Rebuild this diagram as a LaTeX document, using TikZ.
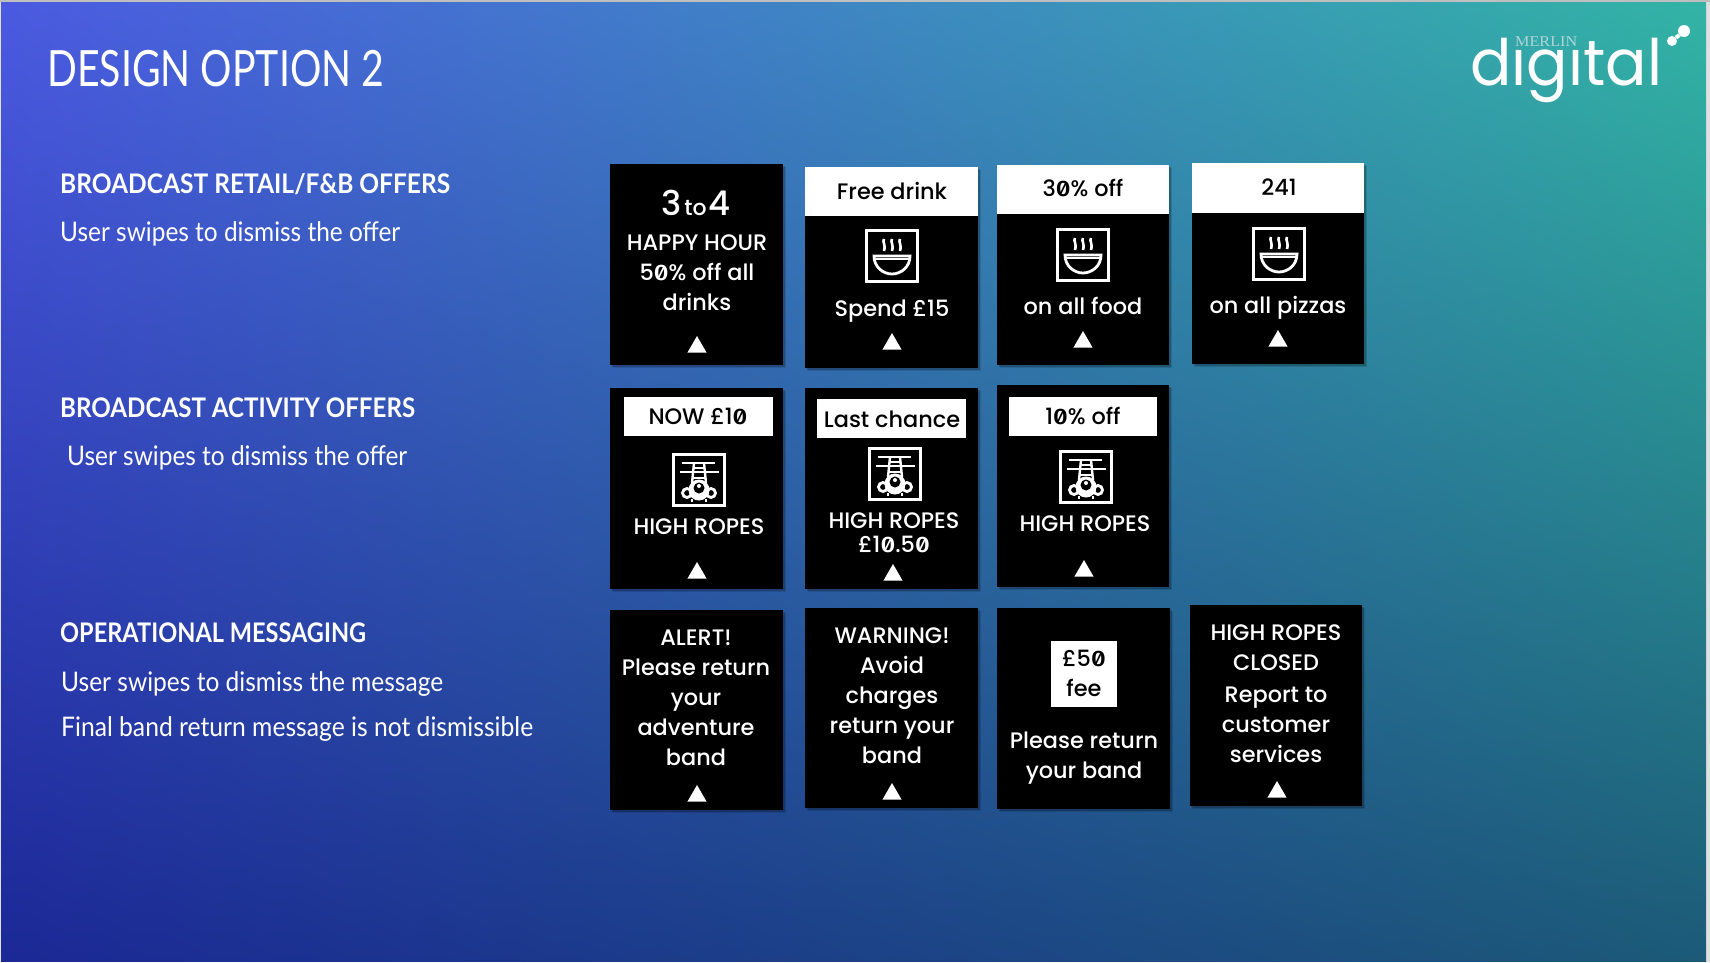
\documentclass[tikz,border=0pt]{standalone}
\usepackage{fontspec}
\usetikzlibrary{shapes.geometric,shadows}
\setmainfont{Lato}
\newfontfamily\cardf{Poppins Medium}
\newfontfamily\zerof[RawFeature=+zero]{Fira Sans Medium}
\newfontfamily\logof{Poppins}
\newfontfamily\serf{Liberation Serif}
\newcommand{\zz}{{\zerof\scalebox{1.15}[1]{0}}}
\newsavebox{\fitbox}
\newcommand{\fit}[2]{\sbox{\fitbox}{#2}\pgfmathsetmacro{\fitscale}{#1/(\wd\fitbox/1pt)}\scalebox{\fitscale}[1]{\usebox{\fitbox}}}
% bilinear page gradient: u v -> r g b
\newcommand{\chan}[4]{2 copy mul #4 mul 2 index #2 mul add 1 index #3 mul add #1 add 3 1 roll }
\pgfdeclarefunctionalshading{pagegrad}{\pgfpoint{0bp}{0bp}}{\pgfpoint{100bp}{100bp}}{}{
 25 sub 50 div exch 25 sub 50 div exch
 \chan{0.106}{0.004}{0.188}{-0.102}
 \chan{0.157}{0.196}{0.196}{0.157}
 \chan{0.588}{-0.118}{0.294}{-0.117}
 pop pop
}
\tikzset{
 x=1pt,y=-1pt,
 cardbox/.style={fill=black,anchor=north west,inner sep=0pt,outer sep=0pt,
   general shadow={shadow xshift=3pt,shadow yshift=-3pt,fill=black,opacity=.12},
   general shadow={shadow xshift=1.5pt,shadow yshift=-1.5pt,fill=black,opacity=.2}},
 headerbox/.style={fill=white,anchor=north west,inner sep=0pt,outer sep=0pt},
 cardtext/.style={text=white,anchor=base,inner sep=0pt,font=\cardf\fontsize{22.4}{26}\selectfont},
 headtext/.style={cardtext,text=black},
 swipe/.style={regular polygon,regular polygon sides=3,fill=white,inner sep=0pt,minimum size=22pt,draw=none,yshift=-2pt},
 titletext/.style={text=white,anchor=base west,inner sep=0pt,font=\fontsize{50}{56}\selectfont},
 sectionhead/.style={text=white,anchor=base west,inner sep=0pt,font=\bfseries\fontsize{27}{30}\selectfont},
 sectionsub/.style={text=white,anchor=base west,inner sep=0pt,font=\fontsize{27}{30}\selectfont},
 iconline/.style={draw=white,line width=3.4pt,fill=none},
 bowlicon/.pic={
   \draw[iconline] (1.7,1.7) rectangle (52.3,52.3);
   \draw[iconline,line width=2.6pt] (19,10) .. controls (17,13) and (21,15) .. (19,22);
   \draw[iconline,line width=2.6pt] (27,10) .. controls (25,13) and (29,15) .. (27,22);
   \draw[iconline,line width=2.6pt] (35,10) .. controls (33,13) and (37,15) .. (35,22);
   \draw[iconline,line width=2.8pt,line cap=round] (9,27) -- (45,27) .. controls (45,38) and (36,45) .. (27,45) .. controls (18,45) and (9,38) .. (9,27) -- cycle;
   \draw[draw=white,line width=2pt] (9,30) -- (45,30);
 },
 ropeicon/.pic={
   \draw[iconline] (1.7,1.7) rectangle (52.3,52.3);
   \draw[iconline,line width=2.6pt] (10,10) -- (43,10);
   \draw[iconline,line width=2.6pt] (8,19) -- (47,19);
   \draw[iconline,line width=2.4pt] (22,10) -- (20,30);
   \draw[iconline,line width=2.4pt] (32,10) -- (34,30);
   \draw[iconline,line width=2.2pt] (21,15) -- (33,15);
   \draw[iconline,line width=2.2pt] (20,25) -- (34,25);
   \draw[iconline,line width=2.8pt] (15,40) circle (4.5);
   \draw[iconline,line width=2.8pt] (39,40) circle (4.5);
   \fill[white] (27,37) circle (10.5);
   \fill[black] (27,35) circle (5.5);
   \fill[white] (27,33) circle (2);
   \draw[iconline,line width=2.4pt] (20,46) -- (20,49);
   \draw[iconline,line width=2.4pt] (34,46) -- (34,49);
 }
}
\newcommand{\card}[5]{\node[cardbox,minimum width=#4pt,minimum height=#5pt] (#1) at (#2,#3) {};}
\newcommand{\headbar}[5]{\node[headerbox,minimum width=#4pt,minimum height=#5pt] (#1) at (#2,#3) {};}
\begin{document}
\begin{tikzpicture}
\useasboundingbox (0,0) rectangle (1710,962);
\fill[white!88!black] (0,0) rectangle (1710,962);
\fill[black!25] (0,0) rectangle (1710,2);
\shade[shading=pagegrad] (1,2) rectangle (1706,961);

% title and logo
\node[titletext] (title) at (47,86) {\fit{337}{DESIGN OPTION 2}};
\begin{scope}
\clip (1460,20) -- (1512,20) -- (1512,48) -- (1585,48) -- (1585,20) -- (1672,20) -- (1672,110) -- (1460,110) -- cycle;
\node[text=white,anchor=base west,inner sep=0pt,font=\logof\fontsize{64}{64}\selectfont] (logoword) at (1470,85) {\fit{192}{digital}};
\end{scope}
\node[text=white!68!teal,anchor=base west,inner sep=0pt,font=\serf\fontsize{15}{15}\selectfont] (logotop) at (1515,46) {\fit{62}{MERLIN}};
\node[circle,fill=white,inner sep=0pt,minimum size=10pt] (dota) at (1672,41) {};
\node[circle,fill=white,inner sep=0pt,minimum size=12pt] (dotb) at (1684,31) {};
\draw[white,line width=4pt] (dota) -- (dotb);

% left column
\node[sectionhead] (h1) at (60,193) {\fit{390}{BROADCAST RETAIL/F\&B OFFERS}};
\node[sectionsub] (s1) at (60,241) {\fit{340}{User swipes to dismiss the offer}};
\node[sectionhead] (h2) at (60,417) {\fit{355}{BROADCAST ACTIVITY OFFERS}};
\node[sectionsub] (s2) at (67,465) {\fit{340}{User swipes to dismiss the offer}};
\node[sectionhead] (h3) at (60,642) {\fit{306}{OPERATIONAL MESSAGING}};
\node[sectionsub] (s3) at (61,691) {\fit{382}{User swipes to dismiss the message}};
\node[sectionsub] (s4) at (61,736) {\fit{472}{Final band return message is not dismissible}};

% row 1
\card{ca}{610}{164}{173}{201}
\node[cardtext] (ca1) at (696,215) {\fontsize{34}{36}\selectfont 3\hspace{3pt}{\fontsize{22}{26}\selectfont to}\hspace{2pt}4};
\node[cardtext] (ca2) at (697,250) {HAPPY HOUR};
\node[cardtext] (ca3) at (697,280) {5\zz\% off all};
\node[cardtext] (ca4) at (697,310) {drinks};
\node[swipe] (cat) at (697,345) {};

\card{cb}{805}{167}{173}{201}
\headbar{cbh}{805}{167}{173}{49}
\node[headtext] (cbh1) at (892,199) {Free drink};
\pic at (865,229) {bowlicon};
\node[cardtext] (cb1) at (892,316) {Spend £15};
\node[swipe] (cbt) at (892,342) {};

\card{cc}{997}{165}{172}{200}
\headbar{cch}{997}{165}{172}{49}
\node[headtext] (cch1) at (1083,196) {3\zz\% off};
\pic at (1056,228) {bowlicon};
\node[cardtext] (cc1) at (1083,314) {on all food};
\node[swipe] (cct) at (1083,340) {};

\card{cd}{1192}{163}{172}{201}
\headbar{cdh}{1192}{163}{172}{50}
\node[headtext] (cdh1) at (1279,195) {241};
\pic at (1252,227) {bowlicon};
\node[cardtext] (cd1) at (1278,313) {on all pizzas};
\node[swipe] (cdt) at (1278,339) {};

% row 2
\card{da}{610}{388}{173}{201}
\headbar{dah}{624}{397}{149}{39}
\node[headtext] (dah1) at (698,424) {NOW £1\zz};
\pic at (672,453) {ropeicon};
\node[cardtext] (da1) at (699,534) {HIGH ROPES};
\node[swipe] (dat) at (697,571) {};

\card{db}{805}{388}{173}{201}
\headbar{dbh}{817}{399}{149}{39}
\node[headtext] (dbh1) at (892,427) {Last chance};
\pic at (868,447) {ropeicon};
\node[cardtext] (db1) at (894,528) {HIGH ROPES};
\node[cardtext] (db2) at (894,552) {£1\zz.5\zz};
\node[swipe] (dbt) at (893,573) {};

\card{dc}{997}{385}{172}{202}
\headbar{dch}{1009}{397}{148}{39}
\node[headtext] (dch1) at (1083,424) {1\zz\% off};
\pic at (1059,450) {ropeicon};
\node[cardtext] (dc1) at (1085,531) {HIGH ROPES};
\node[swipe] (dct) at (1084,569) {};

% row 3
\card{ea}{610}{610}{173}{200}
\node[cardtext] (ea1) at (696,645) {ALERT!};
\node[cardtext] (ea2) at (696,675) {Please return};
\node[cardtext] (ea3) at (696,705) {your};
\node[cardtext] (ea4) at (696,735) {adventure};
\node[cardtext] (ea5) at (696,765) {band};
\node[swipe] (eat) at (697,794) {};

\card{eb}{805}{608}{173}{200}
\node[cardtext] (eb1) at (892,643) {WARNING!};
\node[cardtext] (eb2) at (892,673) {Avoid};
\node[cardtext] (eb3) at (892,703) {charges};
\node[cardtext] (eb4) at (892,733) {return your};
\node[cardtext] (eb5) at (892,763) {band};
\node[swipe] (ebt) at (892,792) {};

\card{ec}{997}{608}{173}{201}
\headbar{ech}{1051}{641}{66}{66}
\node[headtext] (ech1) at (1084,666) {£5\zz};
\node[headtext] (ech2) at (1084,696) {fee};
\node[cardtext] (ec1) at (1084,748) {Please return};
\node[cardtext] (ec2) at (1084,778) {your band};

\card{ed}{1190}{605}{172}{201}
\node[cardtext] (ed1) at (1276,640) {HIGH ROPES};
\node[cardtext] (ed2) at (1276,670) {CLOSED};
\node[cardtext] (ed3) at (1276,702) {Report to};
\node[cardtext] (ed4) at (1276,732) {customer};
\node[cardtext] (ed5) at (1276,762) {services};
\node[swipe] (edt) at (1277,790) {};
\end{tikzpicture}
\end{document}
